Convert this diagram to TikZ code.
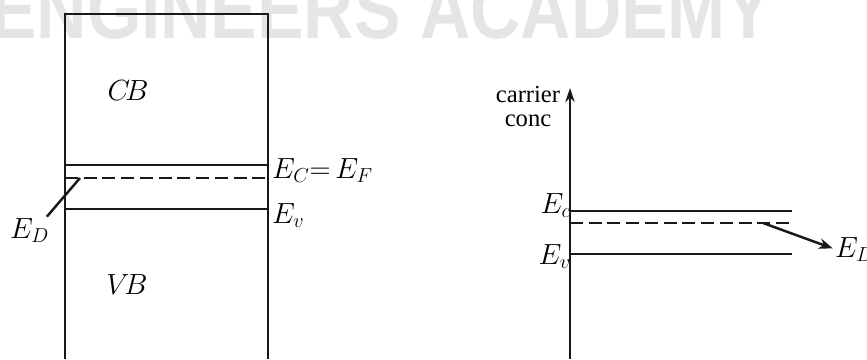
\documentclass[tikz,border=0pt]{standalone}
\usepackage{fontspec}
\setmainfont{Liberation Serif}
\newfontfamily\markfont{Liberation Sans}
\usetikzlibrary{arrows.meta}
\begin{document}
\begin{tikzpicture}[x=0.03cm, y=-0.03cm]
    \definecolor{mymark}{RGB}{229,229,229}
    \definecolor{myline}{RGB}{25,25,25}
    \tikzset{
        band/.style={myline, line width=2.4pt},
        donor/.style={band, dash pattern=on 11pt off 5pt},
        lbl/.style={inner sep=0pt, font=\fontsize{23}{27}\selectfont},
        pointer/.style={myline, line width=2.1pt},
    }
    \useasboundingbox (0,0) rectangle (867,359);

    % faded watermark behind
    \node[anchor=base west, text=mymark, inner sep=0pt, xscale=0.85,
          font=\markfont\bfseries\fontsize{70}{80}\selectfont] (mark) at (-10,38) {ENGINEERS ACADEMY};

    % band picture
    \draw[band] (65,359) -- (65,14) -- (268,14) -- (268,359);
    \draw[band] (65,165) -- (268,165);
    \draw[donor] (65,178) -- (268,178);
    \draw[band] (65,209) -- (268,209);
    \node[lbl] (cb) at (128,91) {$C\!B$};
    \node[lbl] (vb) at (127,285) {$V\!B$};
    \node[lbl, anchor=base west] (ecef) at (272,178) {$E_C{=}\,E_F$};
    \node[lbl, anchor=base west] (evleft) at (272,223) {$E_v$};
    \node[lbl, anchor=base west] (edleft) at (10,238) {$E_D$};
    \coordinate (edtip) at (80,178);
    \draw[pointer] ([shift={(-2pt,1pt)}]edleft.north east) -- (edtip);

    % carrier concentration axis
    \coordinate (origin) at (570,359);
    \coordinate (ytop) at (570,88);
    \draw[pointer, -{Stealth[length=12pt, width=8pt]}] (origin) -- (ytop);
    \node[anchor=base, inner sep=0pt, font=\fontsize{21}{25}\selectfont] (carrier) at (528,102) {carrier};
    \node[anchor=base, inner sep=0pt, font=\fontsize{21}{25}\selectfont] (conc) at (528,126) {conc};

    \draw[band] (570,211) -- (792,211);
    \draw[donor] (570,223) -- (792,223);
    \draw[band] (570,254) -- (792,254);
    \node[lbl, anchor=base east] (ecright) at (571,213) {$E_c$};
    \node[lbl, anchor=base east] (evright) at (571,264) {$E_v$};
    \node[lbl, anchor=base west] (edright) at (835,257) {$E_D$};
    \coordinate (edstart) at (763,223);
    \draw[pointer, -{Stealth[length=12pt, width=9pt]}, shorten >=2pt] (edstart) -- (edright.west);
\end{tikzpicture}
\end{document}
